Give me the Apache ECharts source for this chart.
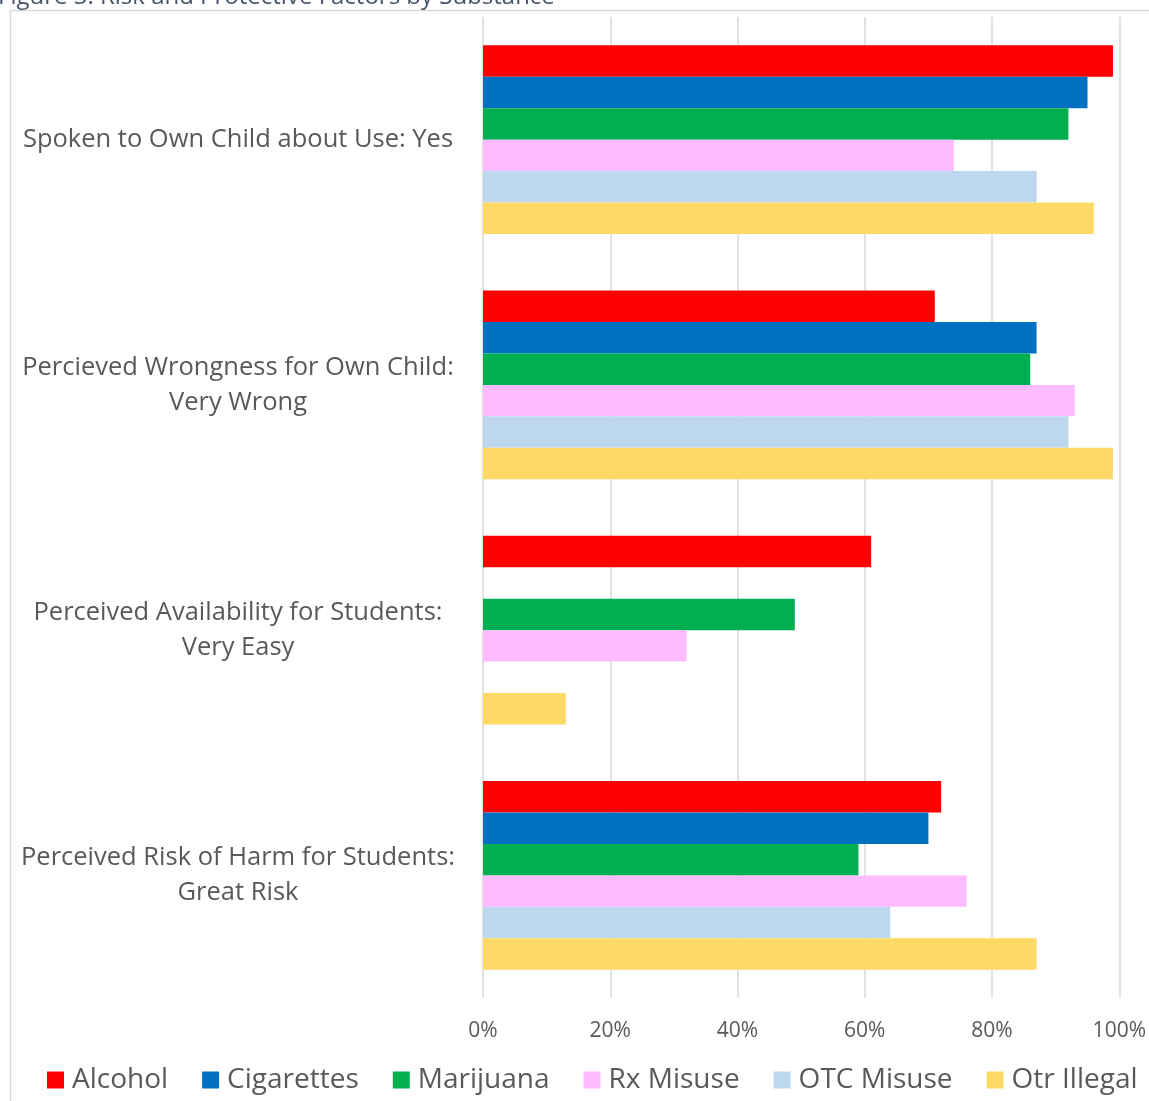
<!DOCTYPE html>
<html>
<head>
<meta charset="utf-8">
<script src="https://cdn.jsdelivr.net/npm/echarts@6/dist/echarts.min.js"></script>
<style>html,body{margin:0;padding:0;background:#fff}#c{width:1149px;height:1101px}</style>
</head>
<body>
<div id="c"></div>
<script>
const categories = [
  "Spoken to Own Child about Use: Yes",
  "Percieved Wrongness for Own Child:\nVery Wrong",
  "Perceived Availability for Students:\nVery Easy",
  "Perceived Risk of Harm for Students:\nGreat Risk"
];
const seriesNames = ["Alcohol", "Cigarettes", "Marijuana", "Rx Misuse", "OTC Misuse", "Otr Illegal"];
const alcohol    = [0.99, 0.71, 0.61, 0.72];
const cigarettes = [0.95, 0.87, null, 0.70];
const marijuana  = [0.92, 0.86, 0.49, 0.59];
const rxMisuse   = [0.74, 0.93, 0.32, 0.76];
const otcMisuse  = [0.87, 0.92, null, 0.64];
const otrIllegal = [0.96, 0.99, 0.13, 0.87];
const xTicks = [0, 0.2, 0.4, 0.6, 0.8, 1.0];
const colors = ["#FF0000", "#0070C0", "#00B050", "#FFBBFF", "#BDD7EE", "#FFD966"];
const titleText = "Figure 3. Risk and Protective Factors by Substance";

const values = [alcohol, cigarettes, marijuana, rxMisuse, otcMisuse, otrIllegal];
const chart = echarts.init(document.getElementById('c'), null, {renderer: 'canvas'});
const option = {
  animation: false,
  backgroundColor: '#fff',
  color: colors,
  graphic: [
    {type: 'rect', shape: {x: 10.5, y: 10.5, width: 1200, height: 1200},
     style: {fill: 'none', stroke: '#d9d9d9', lineWidth: 1.5}, z: -1},
    {type: 'text', left: -2, top: -15,
     style: {text: titleText, font: '24px "Open Sans"', fill: '#44546A'}}
  ],
  grid: {left: 483, right: 29, top: 17, bottom: 103, containLabel: false},
  legend: {
    bottom: 2, left: 42,
    itemWidth: 17, itemHeight: 17, itemGap: 34,
    icon: 'rect',
    textStyle: {fontFamily: 'Open Sans', fontSize: 28, color: '#595959', padding: [0, 0, 0, 3]},
    data: seriesNames
  },
  xAxis: {
    type: 'value', min: 0, max: 1, interval: 0.2,
    axisLine: {show: false}, axisTick: {show: false},
    splitLine: {lineStyle: {color: '#d9d9d9', width: 1.5}},
    axisLabel: {formatter: v => Math.round(v * 100) + '%', fontFamily: 'Open Sans', fontSize: 21, color: '#595959', margin: 23}
  },
  yAxis: {
    type: 'category', data: categories, inverse: true,
    axisLine: {show: false}, axisTick: {show: false},
    axisLabel: {fontFamily: 'Open Sans', fontSize: 25.5, color: '#595959', align: 'center', margin: 245, lineHeight: 35}
  },
  series: seriesNames.map((n, i) => ({
    name: n, type: 'bar', data: values[i],
    barGap: '0%', barCategoryGap: '23%',
    itemStyle: {color: colors[i]}
  }))
};
chart.setOption(option);
</script>
</body>
</html>
